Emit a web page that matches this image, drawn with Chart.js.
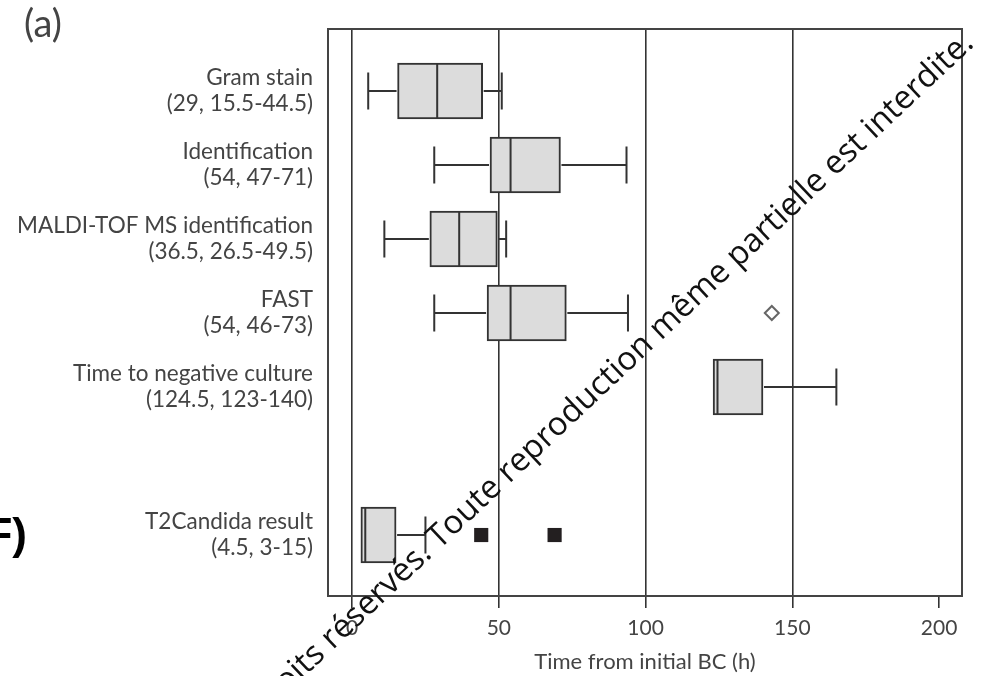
<!DOCTYPE html>
<html><head><meta charset="utf-8">
<script src="https://cdn.jsdelivr.net/npm/chart.js@4"></script>
<style>html,body{margin:0;padding:0;background:#fff}#wrap{width:981px;height:676px}</style>
</head><body><div id="wrap"><canvas id="c" width="981" height="676"></canvas></div>
<script>
// ---- data ----
const categoryNames = ['Gram stain','Identification','MALDI-TOF MS identification','FAST','Time to negative culture','T2Candida result'];
const categoryStats = ['(29, 15.5-44.5)','(54, 47-71)','(36.5, 26.5-49.5)','(54, 46-73)','(124.5, 123-140)','(4.5, 3-15)'];
const rowPositions = [1,2,3,4,5,7];
const whiskerLows  = [5.5, 28, 11, 28, 123, 3];
const q1s          = [15.5, 47, 26.5, 46, 123, 3];
const medians      = [29, 54, 36.5, 54, 124.5, 4.5];
const q3s          = [44.5, 71, 49.5, 73, 140, 15];
const whiskerHighs = [51, 93.5, 52.5, 94, 165, 25];
const diamondValues = [143];
const diamondRows   = [4];
const squareValues  = [44, 69];
const squareRows    = [7, 7];
const xTickValues = [0, 50, 100, 150, 200];
const xAxisTitle = 'Time from initial BC (h)';
const panelLabel = '(a)';
const sideLabel = 'F)';
const watermarkText = 'Tous droits réservés. Toute reproduction même partielle est interdite.';

const FONT = 'Lato, "Open Sans", sans-serif';
const LINE = '#333333';

const boxPlugin = {
  id: 'boxParts',
  afterDatasetsDraw(chart) {
    const ctx = chart.ctx;
    const xs = chart.scales.x;
    const meta = chart.getDatasetMeta(0);
    ctx.save();
    ctx.strokeStyle = LINE;
    ctx.lineWidth = 2;
    meta.data.forEach((bar, i) => {
      const y = bar.y;
      const half = bar.height / 2;
      const cap = bar.height * 0.33;
      const pL = xs.getPixelForValue(whiskerLows[i]);
      const pQ1 = xs.getPixelForValue(q1s[i]);
      const pQ3 = xs.getPixelForValue(q3s[i]);
      const pH = xs.getPixelForValue(whiskerHighs[i]);
      const pM = xs.getPixelForValue(medians[i]);
      ctx.beginPath();
      if (whiskerLows[i] < q1s[i]) {
        ctx.moveTo(pL, y); ctx.lineTo(pQ1 - 1, y);
        ctx.moveTo(pL, y - cap); ctx.lineTo(pL, y + cap);
      }
      if (whiskerHighs[i] > q3s[i]) {
        ctx.moveTo(pQ3 + 1, y); ctx.lineTo(pH, y);
        ctx.moveTo(pH, y - cap); ctx.lineTo(pH, y + cap);
      }
      ctx.moveTo(pM, y - half + 1); ctx.lineTo(pM, y + half - 1);
      ctx.stroke();
    });
    ctx.restore();
  },
  afterDraw(chart) {
    const ctx = chart.ctx;
    const a = chart.chartArea;
    ctx.save();
    // plot frame
    ctx.strokeStyle = '#444';
    ctx.lineWidth = 2;
    ctx.strokeRect(a.left, a.top, a.right - a.left, a.bottom - a.top);
    // panel label
    ctx.fillStyle = '#444';
    ctx.font = '38px ' + FONT;
    ctx.textBaseline = 'middle';
    ctx.textAlign = 'left';
    ctx.fillText(panelLabel, 24, 25);
    // cut side label
    ctx.fillStyle = '#000';
    ctx.font = 'bold 44px "Liberation Sans", sans-serif';
    ctx.textAlign = 'right';
    ctx.textBaseline = 'alphabetic';
    ctx.fillText(sideLabel, 27, 549);
    // watermark
    ctx.font = '100px "Open Sans", sans-serif';
    const part = 'Toute reproduction même partielle est interdite.';
    const w100 = ctx.measureText(part).width;
    const fs = 100 * 737 / w100;
    ctx.font = fs.toFixed(1) + 'px "Open Sans", sans-serif';
    ctx.translate(975, 45);
    ctx.rotate(-43.3 * Math.PI / 180);
    ctx.fillStyle = '#111';
    ctx.textAlign = 'right';
    ctx.fillText(watermarkText, 0, 0);
    ctx.restore();
  }
};

new Chart(document.getElementById('c'), {
  data: {
    datasets: [
      {
        type: 'bar',
        indexAxis: 'y',
        data: rowPositions.map((p, i) => ({ y: p, x: [q1s[i], q3s[i]] })),
        backgroundColor: '#dcdcdc',
        borderColor: LINE,
        borderWidth: 2,
        borderSkipped: false,
        barThickness: 56,
        xAxisID: 'x', yAxisID: 'y'
      },
      {
        type: 'scatter',
        data: diamondValues.map((v, i) => ({ x: v, y: diamondRows[i] })),
        pointStyle: 'rectRot',
        radius: 7,
        borderColor: '#666',
        borderWidth: 2,
        backgroundColor: '#fff',
        xAxisID: 'x', yAxisID: 'y'
      },
      {
        type: 'scatter',
        data: squareValues.map((v, i) => ({ x: v, y: squareRows[i] })),
        pointStyle: 'rect',
        radius: 10,
        borderColor: '#231f20',
        borderWidth: 0,
        backgroundColor: '#231f20',
        xAxisID: 'x', yAxisID: 'y'
      }
    ]
  },
  options: {
    responsive: false,
    animation: false,
    devicePixelRatio: 1,
    layout: { padding: { top: 29, right: 19, left: 0, bottom: 0 } },
    plugins: { legend: { display: false }, tooltip: { enabled: false } },
    scales: {
      x: {
        type: 'linear',
        position: 'bottom',
        offset: false,
        min: -8.2,
        max: 207.8,
        afterBuildTicks: s => { s.ticks = xTickValues.map(v => ({ value: v })); },
        afterFit: s => { s.height = 80; s.paddingLeft = 0; s.paddingRight = 0; },
        grid: {
          offset: false,
          color: c => (c.tick && c.tick.value === 200) ? 'rgba(0,0,0,0)' : LINE,
          tickColor: LINE,
          lineWidth: 1.6,
          tickLength: 12,
          drawTicks: true
        },
        border: { display: false },
        ticks: { color: '#444', font: { family: FONT, size: 21 }, padding: 8, maxRotation: 0 },
        title: { display: true, text: xAxisTitle, color: '#444', font: { family: FONT, size: 22 }, padding: { top: 0, bottom: 1 } }
      },
      y: {
        type: 'linear',
        position: 'left',
        reverse: true,
        offset: false,
        min: 0.162,
        max: 7.824,
        afterBuildTicks: s => { s.ticks = rowPositions.map(v => ({ value: v })); },
        afterFit: s => { s.width = 328; s.paddingTop = 0; s.paddingBottom = 0; },
        grid: { display: false, drawTicks: false, offset: false },
        border: { display: false },
        ticks: {
          autoSkip: false,
          color: '#444',
          padding: 15,
          font: { family: FONT, size: 22.5, lineHeight: 1.14 },
          callback: v => {
            const i = rowPositions.indexOf(v);
            return i < 0 ? '' : [categoryNames[i], categoryStats[i]];
          }
        }
      }
    }
  },
  plugins: [boxPlugin]
});
</script>
</body></html>
